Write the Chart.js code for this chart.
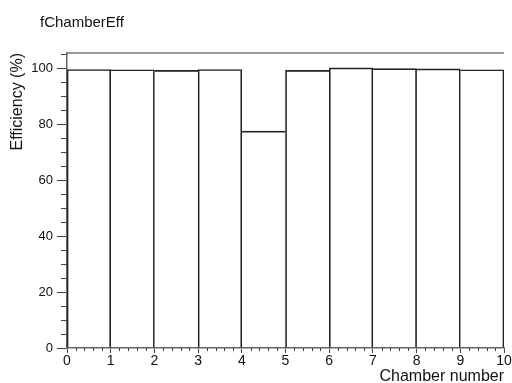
<!DOCTYPE html>
<html>
<head>
<meta charset="utf-8">
<script src="https://cdn.jsdelivr.net/npm/chart.js@4"></script>
<style>
  html, body { margin: 0; padding: 0; background: #fff; }
  #wrap { width: 512px; height: 383px; position: relative; }
</style>
</head>
<body>
<div id="wrap"><canvas id="effChart"></canvas></div>
<script>
/* histogram data: one bin per chamber */
const chambers = [0, 1, 2, 3, 4, 5, 6, 7, 8, 9];
const efficiency = [99.5, 99.4, 99.2, 99.5, 77.5, 99.2, 100.1, 99.8, 99.7, 99.4];
const xTicks = [0, 1, 2, 3, 4, 5, 6, 7, 8, 9, 10];
const yTicks = [0, 20, 40, 60, 80, 100];
const xMinorStep = 0.2;
const yMinorStep = 5;
const yMax = 105.4;

const FONT = '"Liberation Sans", Arial, Helvetica, sans-serif';

/* shared bin edges are drawn once, by the taller neighbour */
function edgeWidths(i) {
  const v = efficiency;
  const last = v.length - 1;
  return {
    top: 1,
    bottom: 0,
    left: (i === 0 || v[i] >= v[i - 1]) ? 1 : 0,
    right: (i === last || v[i] > v[i + 1]) ? 1 : 0,
  };
}

/* ROOT-like frame: top line, minor ticks, histogram name */
const rootFrame = {
  id: 'rootFrame',
  afterDraw(chart) {
    const { ctx, chartArea: a, scales: { x, y } } = chart;
    ctx.save();
    ctx.strokeStyle = '#777';
    ctx.lineWidth = 1.5;
    ctx.beginPath();
    ctx.moveTo(a.left, a.top);
    ctx.lineTo(a.right, a.top);
    ctx.stroke();

    ctx.strokeStyle = '#444';
    ctx.lineWidth = 1;
    ctx.beginPath();
    for (let v = 0; v <= x.max + 1e-9; v += xMinorStep) {
      if (Math.abs(v - Math.round(v)) < 1e-6) continue;
      const px = Math.round(x.getPixelForValue(v)) + 0.5;
      ctx.moveTo(px, a.bottom);
      ctx.lineTo(px, a.bottom + 3);
    }
    for (let v = 0; v <= y.max + 1e-9; v += yMinorStep) {
      if (v % 20 === 0) continue;
      const py = Math.round(y.getPixelForValue(v)) + 0.5;
      ctx.moveTo(a.left, py);
      ctx.lineTo(a.left - 6, py);
    }
    ctx.stroke();

    ctx.fillStyle = '#111';
    ctx.font = '15px ' + FONT;
    ctx.textBaseline = 'alphabetic';
    ctx.fillText('fChamberEff', 40, 27);
    ctx.restore();
  },
};

new Chart(document.getElementById('effChart'), {
  type: 'bar',
  data: {
    datasets: [{
      data: chambers.map((c, i) => ({ x: c + 0.5, y: efficiency[i] })),
      backgroundColor: 'rgba(0,0,0,0)',
      borderColor: '#222',
      borderWidth: ctx => edgeWidths(ctx.dataIndex),
      barPercentage: 1,
      categoryPercentage: 1,
    }],
  },
  options: {
    responsive: true,
    maintainAspectRatio: false,
    animation: false,
    layout: { padding: { top: 53, right: 8, left: 0, bottom: 0 } },
    plugins: { legend: { display: false }, tooltip: { enabled: false } },
    scales: {
      x: {
        type: 'linear',
        min: 0,
        max: 10,
        offset: false,
        afterBuildTicks: s => { s.ticks = xTicks.map(v => ({ value: v })); },
        afterFit: s => { s.height = 35; },
        grid: { drawOnChartArea: false, tickLength: 5, tickColor: '#444', offset: false },
        border: { color: '#666', width: 1.5 },
        ticks: { color: '#111', font: { family: FONT, size: 14 }, padding: 0, maxRotation: 0, autoSkip: false },
        title: {
          display: true, text: 'Chamber number', align: 'end', color: '#111',
          font: { family: FONT, size: 16, lineHeight: 1 }, padding: { top: 0, bottom: -2 },
        },
      },
      y: {
        min: 0,
        max: yMax,
        afterBuildTicks: s => { s.ticks = yTicks.map(v => ({ value: v })); },
        afterFit: s => { s.width = 67; },
        grid: { drawOnChartArea: false, tickLength: 10, tickColor: '#444' },
        border: { color: '#666', width: 1.5 },
        ticks: { color: '#111', font: { family: FONT, size: 13 }, padding: 4 },
        title: {
          display: true, text: 'Efficiency (%)', align: 'end', color: '#111',
          font: { family: FONT, size: 16, lineHeight: 1 }, padding: { top: 10, bottom: 0 },
        },
      },
    },
  },
  plugins: [rootFrame],
});
</script>
</body>
</html>
